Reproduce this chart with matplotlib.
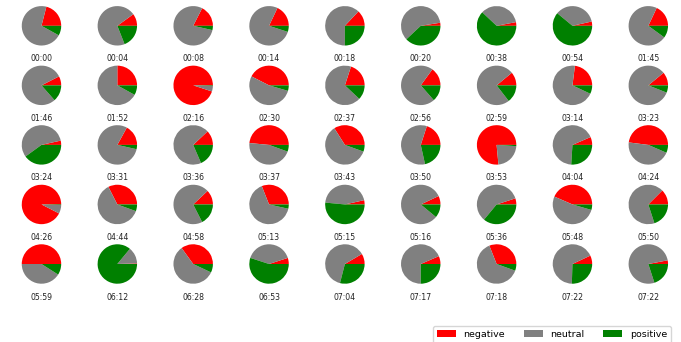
import matplotlib
matplotlib.use("Agg")
import matplotlib.pyplot as plt

# sentiment share per time slot
times = ["00:00", "00:04", "00:08", "00:14", "00:18", "00:20", "00:38", "00:54", "01:45",
         "01:46", "01:52", "02:16", "02:30", "02:37", "02:56", "02:59", "03:14", "03:23",
         "03:24", "03:31", "03:36", "03:37", "03:43", "03:50", "03:53", "04:04", "04:24",
         "04:26", "04:44", "04:58", "05:13", "05:15", "05:16", "05:36", "05:48", "05:50",
         "05:59", "06:12", "06:28", "06:53", "07:04", "07:17", "07:18", "07:22", "07:22"]

negative = [0.21, 0.10, 0.175, 0.18, 0.13, 0.025, 0.03, 0.035, 0.18,
            0.075, 0.25, 0.95, 0.425, 0.20, 0.15, 0.11, 0.23, 0.11,
            0.035, 0.17, 0.12, 0.485, 0.34, 0.20, 0.765, 0.065, 0.48,
            0.925, 0.325, 0.12, 0.31, 0.035, 0.07, 0.05, 0.435, 0.125,
            0.50, 0.005, 0.35, 0.05, 0.085, 0.065, 0.31, 0.07, 0.03]

neutral = [0.71, 0.71, 0.79, 0.77, 0.62, 0.595, 0.35, 0.355, 0.72,
           0.79, 0.67, 0.045, 0.53, 0.68, 0.715, 0.745, 0.70, 0.83,
           0.565, 0.795, 0.695, 0.46, 0.605, 0.585, 0.225, 0.675, 0.455,
           0.07, 0.62, 0.705, 0.655, 0.45, 0.82, 0.59, 0.52, 0.675,
           0.41, 0.135, 0.58, 0.40, 0.625, 0.685, 0.635, 0.675, 0.77]

positive = [0.08, 0.19, 0.035, 0.05, 0.25, 0.38, 0.62, 0.61, 0.10,
            0.135, 0.08, 0.005, 0.045, 0.12, 0.135, 0.145, 0.07, 0.06,
            0.40, 0.035, 0.185, 0.055, 0.055, 0.215, 0.01, 0.26, 0.065,
            0.005, 0.055, 0.175, 0.035, 0.515, 0.11, 0.36, 0.045, 0.20,
            0.09, 0.86, 0.07, 0.55, 0.29, 0.25, 0.055, 0.255, 0.20]

labels = ["negative", "neutral", "positive"]
colors = ["red", "gray", "green"]

fig, axes = plt.subplots(5, 9, figsize=(6.81, 3.42), dpi=100)
plt.subplots_adjust(left=0.0247, right=0.9882, top=0.9966, bottom=0.156,
                    wspace=0.5385, hspace=0.208)

wedges = None
for ax, t, neg, neu, pos in zip(axes.flat, times, negative, neutral, positive):
    w, _ = ax.pie([neg, neu, pos], colors=colors)
    ax.set_xlabel(t, fontsize=5.6, labelpad=2.8, color="#222222")
    if wedges is None:
        wedges = w

fig.legend(wedges, labels, loc="upper left", ncol=3, fontsize=6.8,
           bbox_to_anchor=(433 / 681, 1 - 326 / 342), borderaxespad=0)

plt.savefig("out.png", dpi=100)
